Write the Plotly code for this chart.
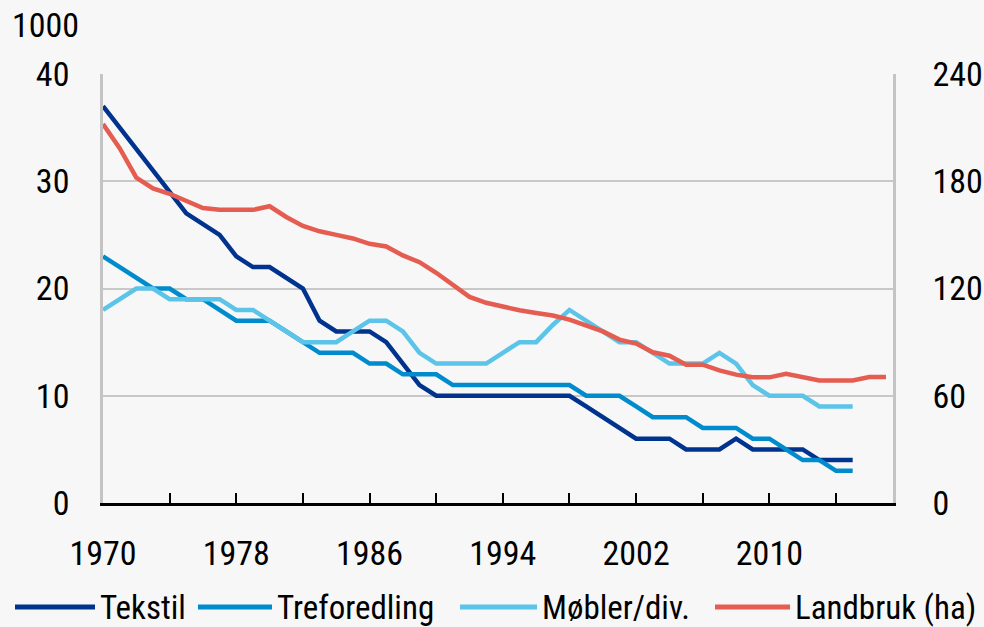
import plotly.graph_objects as go

years = list(range(1970, 2018))

tekstil = [37, 35, 33, 31, 29, 27, 26, 25, 23, 22, 22, 21, 20, 17, 16, 16, 16, 15, 13, 11,
           10, 10, 10, 10, 10, 10, 10, 10, 10, 9, 8, 7, 6, 6, 6, 5, 5, 5, 6, 5,
           5, 5, 5, 4, 4, 4]
treforedling = [23, 22, 21, 20, 20, 19, 19, 18, 17, 17, 17, 16, 15, 14, 14, 14, 13, 13, 12, 12,
                12, 11, 11, 11, 11, 11, 11, 11, 11, 10, 10, 10, 9, 8, 8, 8, 7, 7, 7, 6,
                6, 5, 4, 4, 3, 3]
mobler = [18, 19, 20, 20, 19, 19, 19, 19, 18, 18, 17, 16, 15, 15, 15, 16, 17, 17, 16, 14,
          13, 13, 13, 13, 14, 15, 15, 16.6, 18, 17, 16, 15, 15, 14, 13, 13, 13, 14, 13, 11,
          10, 10, 10, 9, 9, 9]
landbruk = [212, 198.5, 182, 176, 173, 169, 165, 164, 164, 164, 166, 160, 155, 152, 150, 148,
            145, 143.5, 138.5, 134.7, 128.8, 122, 115.3, 112, 109.7, 107.8, 106.3, 104.9,
            102.6, 99.2, 96, 91.4, 89.2, 84.3, 82.4, 77.4, 77.4, 74.2, 71.8, 70.3, 70.3,
            72.3, 70.7, 68.6, 68.6, 68.6, 70.5, 70.5]

names = ["Tekstil", "Treforedling", "Møbler/div.", "Landbruk (ha)"]
colors = ["#00338e", "#008ccc", "#5bc4e8", "#e55d51"]

x_tickvals = list(range(1970, 2015, 4))
x_ticktext = ["1970", "", "1978", "", "1986", "", "1994", "", "2002", "", "2010", ""]
left_ticks = [0, 10, 20, 30, 40]
right_ticks = [0, 60, 120, 180, 240]
unit_label = "1000"

FONT = "Liberation Sans Narrow, Roboto Condensed, Noto Sans, sans-serif"
FS = 34
BG = "#f7f7f7"

fig = go.Figure()
series = [tekstil, treforedling, mobler]
for name, vals, col in zip(names[:3], series, colors[:3]):
    fig.add_trace(go.Scatter(x=years[:len(vals)], y=vals, mode="lines", name=name,
                             line=dict(color=col, width=4.5), showlegend=False))
fig.add_trace(go.Scatter(x=years[:len(landbruk)], y=landbruk, mode="lines", name=names[3],
                         yaxis="y2", line=dict(color=colors[3], width=4.5), showlegend=False))

fig.update_layout(
    width=984, height=627,
    margin=dict(l=103, r=91, t=74, b=124),
    paper_bgcolor=BG, plot_bgcolor=BG,
    font=dict(family=FONT, size=FS, color="#000000"),
    xaxis=dict(range=[1970, 2017.42], tickvals=x_tickvals, ticktext=x_ticktext,
               ticks="inside", ticklen=10, tickwidth=2, tickcolor="#000000",
               showline=True, linecolor="#000000", linewidth=2.5, automargin=False,
               showgrid=False, zeroline=False, ticklabelstandoff=18),
    yaxis=dict(range=[0, 40], tickvals=left_ticks, showgrid=True, gridcolor="#c8c8c8",
               gridwidth=2, showline=True, linecolor="#c4c4c4", linewidth=2.5,
               automargin=False, zeroline=False, ticks="", ticklabelstandoff=24),
    yaxis2=dict(range=[0, 240], tickvals=right_ticks, overlaying="y", side="right",
                showgrid=False, showline=True, linecolor="#c4c4c4", linewidth=2.5,
                automargin=False, zeroline=False, ticks="", ticklabelstandoff=30),
)

fig.add_annotation(text=unit_label, xref="paper", yref="paper", x=(10 - 103) / 790,
                   y=(503 - 25) / 429, xanchor="left", yanchor="middle", showarrow=False,
                   font=dict(family=FONT, size=FS))

# legend (manual, to match long key lines)
leg_lines = [(15, 95), (198, 272), (460, 537), (715, 790)]
leg_y = (503 - 607) / 429
for (x0, x1), name, col in zip(leg_lines, names, colors):
    fig.add_shape(type="line", xref="paper", yref="paper",
                  x0=(x0 - 103) / 790, x1=(x1 - 103) / 790, y0=leg_y, y1=leg_y,
                  line=dict(color=col, width=5))
    fig.add_annotation(text=name, xref="paper", yref="paper", x=(x1 + 3 - 103) / 790,
                       y=leg_y, xanchor="left", yanchor="middle", showarrow=False,
                       font=dict(family=FONT, size=33))

fig.write_html("out.html", config={"displayModeBar": False},
               post_script="document.body.style.margin='0';document.body.style.overflow='hidden';")
